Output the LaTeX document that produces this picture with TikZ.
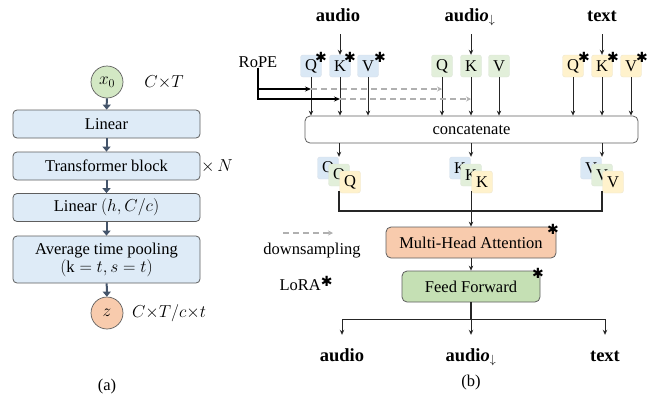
\documentclass[tikz,border=0pt]{standalone}
\usepackage{fontspec}
\setmainfont{Liberation Serif}
\newfontfamily\astfont{DejaVu Sans}
\usetikzlibrary{arrows.meta}
\definecolor{lblue}{HTML}{DEEBF7}
\definecolor{qblue}{HTML}{DAE8F5}
\definecolor{qgreen}{HTML}{E2EFDA}
\definecolor{qyellow}{HTML}{FFF2CC}
\definecolor{xgreen}{HTML}{D3E8C4}
\definecolor{zorange}{HTML}{F8CBAD}
\definecolor{ffgreen}{HTML}{C5E0B4}
\definecolor{navy}{HTML}{44546A}
\definecolor{bordergray}{HTML}{5E5E5E}
\definecolor{dashgray}{HTML}{B0B0B0}
\definecolor{ink}{HTML}{262626}
\newcommand{\myast}{{\astfont\bfseries\fontsize{14}{14}\selectfont ✱}}
\begin{document}
\begin{tikzpicture}[x=1pt,y=-1pt,
  every node/.style={font=\fontsize{16.5}{19}\selectfont, inner sep=0pt},
  lbox/.style={draw=bordergray, line width=0.8pt, fill=lblue, rounded corners=4pt, minimum width=187pt, minimum height=28pt},
  circ/.style={circle, draw=bordergray, line width=0.7pt, minimum size=32pt},
  larrow/.style={draw=navy, line width=2pt, -{Triangle[length=5pt,width=8pt]}},
  sarrow/.style={draw=ink, line width=0.9pt, -{Stealth[length=5pt,width=4.5pt]}},
  cline/.style={draw=ink, line width=1.2pt},
  rarrow/.style={draw=black, line width=1.8pt, -{Stealth[length=6pt,width=5pt]}},
  dasharrow/.style={draw=dashgray, line width=1.4pt, dash pattern=on 6pt off 4pt, -{Stealth[length=5pt,width=5pt]}},
  qkv/.style={rounded corners=2.5pt, minimum width=21pt, minimum height=22pt, font=\fontsize{16.5}{19}\selectfont},
  qb/.style={qkv, fill=qblue, draw=qblue!80!gray!70, line width=0.4pt},
  qg/.style={qkv, fill=qgreen, draw=qgreen!80!gray!70, line width=0.4pt},
  qy/.style={qkv, fill=qyellow, draw=qyellow!80!gray!70, line width=0.4pt},
  blabel/.style={font=\fontsize{18.5}{20}\selectfont\bfseries, text height=12pt, text depth=4pt},
  ast/.style={},
  bigbox/.style={draw=bordergray, line width=0.8pt, rounded corners=5pt},
]
\useasboundingbox (0,0) rectangle (661,400);

% ---------------- (a) ----------------
\node[circ, fill=xgreen] (x0) at (107,82) {$x_0$};
\node[lbox] (lin1) at (106.5,124) {Linear};
\node[lbox] (tb) at (106.5,166) {Transformer block};
\node[lbox] (lin2) at (106.5,207.5) {Linear $(h, C/c)$};
\node[lbox, minimum height=47pt, align=center] (avg) at (106.5,259.5) {Average time pooling\\[-1pt]$(\mathrm{k}=t, s=t)$};
\node[circ, fill=zorange] (z) at (107,313) {$z$};
\node (ct) at (164,82) {$C{\times}T$};
\node (xn) at (217,166) {$\times\,N$};
\node (ctc) at (169,313) {$C{\times}T/c{\times}t$};
\node (la) at (107,387) {(a)};
\draw[larrow] (x0) -- (lin1);
\draw[larrow] (lin1) -- (tb);
\draw[larrow] (tb) -- (lin2);
\draw[larrow] (lin2) -- (avg);
\draw[larrow] (avg) -- (z);

% ---------------- (b) ----------------
\node[blabel] (ain) at (338,17) {audio};
\node[blabel] (din) at (470,17) {audi\textit{o}$_{\downarrow}$};
\node[blabel] (tin) at (602,17) {text};

\node[qb] (aQ) at (311,66) {Q};
\node[qb] (aK) at (340,66) {K};
\node[qb] (aV) at (368,66) {V};
\node[qg] (dQ) at (442,66) {Q};
\node[qg] (dK) at (471,66) {K};
\node[qg] (dV) at (499,66) {V};
\node[qy] (tQ) at (573,66) {Q};
\node[qy] (tK) at (602,66) {K};
\node[qy] (tV) at (631,66) {V};
\node[ast] (aQs) at (321,57) {\myast};
\node[ast] (aKs) at (350,57) {\myast};
\node[ast] (aVs) at (380,57) {\myast};
\node[ast] (tQs) at (584,57) {\myast};
\node[ast] (tKs) at (613,57) {\myast};
\node[ast] (tVs) at (642,57) {\myast};

\draw[sarrow, shorten <=9pt] (aK |- ain.south) -- (aK);
\draw[sarrow, shorten <=9pt] (dK |- din.south) -- (dK);
\draw[sarrow, shorten <=9pt] (tK |- tin.south) -- (tK);

\node[bigbox] (cat) at (471.5,129.5) [minimum width=333pt, minimum height=27pt] {concatenate};
\foreach \n in {aQ,aK,aV,dQ,dK,dV,tQ,tK,tV}{
  \draw[sarrow] (\n) -- (\n |- cat.north);
}

\node (rope) at (258,62) {RoPE};
\coordinate (r1) at (258,89);
\coordinate (r2) at (258,99);
\draw[dasharrow] (aQ |- r1) -- (dQ |- r1);
\draw[dasharrow] (aK |- r2) -- (dK |- r2);
\draw[rarrow] (rope.south) |- (aQ |- r1);
\draw[rarrow] (rope.south) |- (aK |- r2);

% stacks
\node[qb] (sQb) at (328,168) {Q};
\node[qg] (sQg) at (339,175) {Q};
\node[qy] (sQy) at (350,182) {Q};
\node[qb] (sKb) at (460,168) {K};
\node[qg] (sKg) at (471,175) {K};
\node[qy] (sKy) at (482,182) {K};
\node[qb] (sVb) at (591,168) {V};
\node[qg] (sVg) at (602,175) {V};
\node[qy] (sVy) at (613,182) {V};
\draw[sarrow] (sQg |- cat.south) -- (sQg |- sQb.north);
\draw[sarrow] (sKg |- cat.south) -- (sKg |- sKb.north);
\draw[sarrow] (sVg |- cat.south) -- (sVg |- sVb.north);

\coordinate (jc) at (471,211);
\node[bigbox, fill=zorange, minimum width=170pt, minimum height=31pt] (mha) at (471,242.5) {Multi-Head Attention};
\node[bigbox, fill=ffgreen, minimum width=138pt, minimum height=31pt] (ff) at (471,286.5) {Feed Forward};
\node[ast] (mhas) at (553,229) {\myast};
\node[ast] (ffs) at (538,273) {\myast};

\draw[cline] ([yshift=2pt]sQg |- sQy.south) |- (jc) -| ([yshift=2pt]sVg |- sVy.south);
\draw[sarrow] ([yshift=2pt]sKg |- sKy.south) -- (mha.north);
\draw[sarrow] (mha) -- (ff);

\coordinate (oj) at (471,319);
\node[blabel] (aout) at (342,357) {audio};
\node[blabel] (dout) at (471,357) {audi\textit{o}$_{\downarrow}$};
\node[blabel] (tout) at (605,357) {text};
\draw[cline] (ff.south) -- (oj);
\draw[sarrow, shorten >=14pt] (oj) -| (aout);
\draw[sarrow, shorten >=14pt] (oj) -- (dout);
\draw[sarrow, shorten >=14pt] (oj) -| (tout);

% legend
\coordinate (lg1) at (283,233);
\coordinate (lg2) at (333,233);
\draw[dasharrow] (lg1) -- (lg2);
\node (ds) at (312,251) {downsampling};
\node (lora) at (306,283) {LoRA\raisebox{4pt}{\myast}};
\node (lb) at (471,383) {(b)};
\end{tikzpicture}
\end{document}
